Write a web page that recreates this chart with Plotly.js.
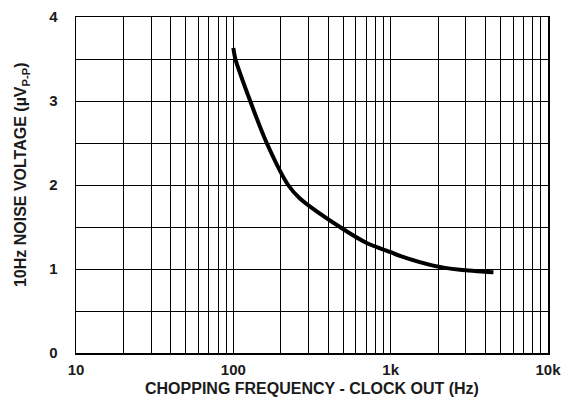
<!DOCTYPE html>
<html>
<head>
<meta charset="utf-8">
<script src="https://cdn.plot.ly/plotly-3.0.1.min.js"></script>
<style>html,body{margin:0;padding:0;background:#fff}#chart{width:570px;height:401px}</style>
</head>
<body>
<div id="chart"></div>
<script>
// Chopping frequency (Hz) and 10Hz noise voltage (uVp-p)
var freqHz = [100, 103, 128, 163, 223, 265, 476, 704, 1000, 1146, 1866, 2759, 4500];
var noiseUv = [3.63, 3.5, 3.0, 2.5, 2.0, 1.84, 1.5, 1.31, 1.2, 1.155, 1.04, 0.99, 0.96];

var xGridVals = [10,20,30,40,50,60,70,80,90,100,200,300,400,500,600,700,800,900,1000,2000,3000,4000,5000,6000,7000,8000,9000,10000];
var xMajorLabels = {10:'10', 100:'100', 1000:'1k', 10000:'10k'};
var yGridVals = [0,0.5,1,1.5,2,2.5,3,3.5,4];
var yMajorLabels = {0:'0',1:'1',2:'2',3:'3',4:'4'};
var xTitle = 'CHOPPING FREQUENCY - CLOCK OUT (Hz)';
var yTitle = '10Hz NOISE VOLTAGE (µV<sub>P-P</sub>)';

var xText = xGridVals.map(function(v){ return xMajorLabels[v] || ''; });
var yText = yGridVals.map(function(v){ return (yMajorLabels[v] !== undefined) ? yMajorLabels[v] : ''; });

var fontFam = 'Liberation Sans, Arial, sans-serif';
var txtColor = '#1a1a1a';

var trace = {
  x: freqHz, y: noiseUv, type: 'scatter', mode: 'lines',
  line: {color: '#000', width: 4, shape: 'spline', smoothing: 0.8},
  hoverinfo: 'none'
};

var layout = {
  width: 570, height: 401,
  margin: {l: 76, r: 22, t: 17, b: 48, pad: 0},
  paper_bgcolor: '#fff', plot_bgcolor: '#fff',
  showlegend: false,
  xaxis: {
    type: 'log', range: [1, 4],
    tickmode: 'array', tickvals: xGridVals, ticktext: xText, tickangle: 0,
    showgrid: true, gridcolor: '#000', gridwidth: 1,
    showline: true, linecolor: '#000', linewidth: 1.5, mirror: true,
    ticks: '', zeroline: false, ticklabelstandoff: 2,
    tickfont: {family: fontFam, size: 15, color: txtColor, weight: 'bold'}
  },
  yaxis: {
    range: [0, 4],
    tickmode: 'array', tickvals: yGridVals, ticktext: yText,
    showgrid: true, gridcolor: '#000', gridwidth: 1,
    showline: true, linecolor: '#000', linewidth: 1.5, mirror: true,
    ticks: '', zeroline: false, ticklabelstandoff: 14,
    tickfont: {family: fontFam, size: 15, color: txtColor, weight: 'bold'}
  },
  annotations: [
    {text: '<b>' + xTitle + '</b>', xref: 'paper', yref: 'paper', x: 0.5, y: -0.107,
     xanchor: 'center', yanchor: 'middle', showarrow: false,
     font: {family: fontFam, size: 16, color: txtColor}},
    {text: '<b>' + yTitle + '</b>', xref: 'paper', yref: 'paper', x: -0.114, y: 0.53,
     xanchor: 'center', yanchor: 'middle', showarrow: false, textangle: -90,
     font: {family: fontFam, size: 16, color: txtColor}}
  ]
};

Plotly.newPlot('chart', [trace], layout, {staticPlot: true, displayModeBar: false});
</script>
</body>
</html>
